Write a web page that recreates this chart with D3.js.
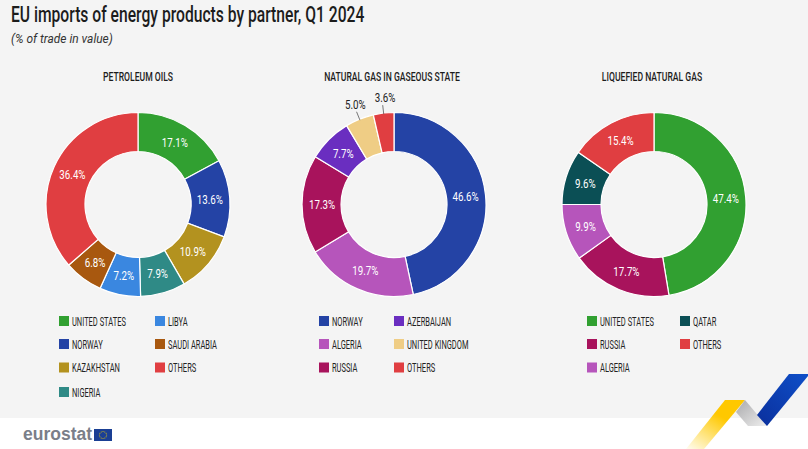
<!DOCTYPE html>
<html><head><meta charset="utf-8">
<script src="https://cdn.jsdelivr.net/npm/d3@7"></script>
<style>
html,body{margin:0;padding:0;background:#fff}
svg{display:block}
text{font-family:"Roboto",sans-serif}
</style></head><body><div id="c"></div>
<script>
const titleText="EU imports of energy products by partner, Q1 2024";
const subtitleText="(% of trade in value)";
const panelTitles=["PETROLEUM OILS","NATURAL GAS IN GASEOUS STATE","LIQUEFIED NATURAL GAS"];
const colors={"UNITED STATES":"#31a031","NORWAY":"#2443a5","KAZAKHSTAN":"#b3921f","NIGERIA":"#2f8a86","LIBYA":"#3a87e0","SAUDI ARABIA":"#a8580f","OTHERS":"#e03e41","ALGERIA":"#b655bb","RUSSIA":"#a8135c","AZERBAIJAN":"#6a2ec0","UNITED KINGDOM":"#efcd85","QATAR":"#0b4f55"};
const oilNames=["UNITED STATES","NORWAY","KAZAKHSTAN","NIGERIA","LIBYA","SAUDI ARABIA","OTHERS"];
const oilValues=[17.1,13.6,10.9,7.9,7.2,6.8,36.4];
const gasNames=["NORWAY","ALGERIA","RUSSIA","AZERBAIJAN","UNITED KINGDOM","OTHERS"];
const gasValues=[46.6,19.7,17.3,7.7,5.0,3.6];
const lngNames=["UNITED STATES","RUSSIA","ALGERIA","QATAR","OTHERS"];
const lngValues=[47.4,17.7,9.9,9.6,15.4];
const panels=[
 {names:oilNames,values:oilValues,cx:138,titleX:138,legX:[59,155],n1:4},
 {names:gasNames,values:gasValues,cx:394,titleX:392,legX:[319,394],n1:3},
 {names:lngNames,values:lngValues,cx:654,titleX:652,legX:[587,680],n1:3}
];
const W=808,H=449,cy=204.5,R=92,r0=53,rL=72;
const svg=d3.select("#c").append("svg").attr("width",W).attr("height",H);
// text squeezed horizontally to stand in for the condensed face of the reference
function label(parent,x,y,str,size,sx,fill,anchor){
 return parent.append("text").attr("transform",`translate(${x},${y}) scale(${sx},1)`)
  .attr("text-anchor",anchor||"start").attr("font-size",size).attr("fill",fill).text(str);
}
svg.append("rect").attr("width",W).attr("height",418).attr("fill","#f4f4f4");
label(svg,11,22,titleText,21.5,0.728,"#1c1c1c").attr("font-weight",500);
label(svg,11,43,subtitleText,13,0.92,"#333").attr("font-style","italic");
const arc=d3.arc().innerRadius(r0).outerRadius(R);
const pie=d3.pie().sort(null).value(d=>d);
const rowY=[321,344,367.5,392];
panels.forEach((p,pi)=>{
 label(svg,p.titleX,81,panelTitles[pi],12.5,0.69,"#1c1c1c","middle").attr("font-weight",500);
 const g=svg.append("g").attr("transform",`translate(${p.cx},${cy})`);
 const arcs=pie(p.values);
 g.selectAll("path").data(arcs).join("path").attr("d",arc)
  .attr("fill",(d,i)=>colors[p.names[i]]).attr("stroke","#fff").attr("stroke-width",1.2);
 arcs.forEach((a,i)=>{
  const m=(a.startAngle+a.endAngle)/2, s=Math.sin(m), c=-Math.cos(m);
  const txt=p.values[i].toFixed(1)+"%";
  if(p.values[i]<=5.0){
   g.append("line").attr("x1",s*(R-1)).attr("y1",c*(R-1)).attr("x2",s*(R+8)).attr("y2",c*(R+8)).attr("stroke","#555").attr("stroke-width",0.8);
   label(g,s*(R+14)+(i===5?3:1),c*(R+14)+2.5,txt,13,0.75,"#222","middle");
  } else {
   label(g,s*rL,c*rL+4.5,txt,13,0.75,"#fff","middle");
  }
 });
 const leg=svg.append("g");
 p.names.forEach((n,i)=>{
  const col=i<p.n1?0:1, row=col?i-p.n1:i;
  leg.append("rect").attr("x",p.legX[col]).attr("y",rowY[row]-5).attr("width",10).attr("height",10).attr("fill",colors[n]);
  label(leg,p.legX[col]+13,rowY[row]+4.5,n,12.5,0.6,"#222");
 });
});
// Eurostat branding
const defs=svg.append("defs");
const gy=defs.append("linearGradient").attr("id","gy").attr("x1",0).attr("y1",1).attr("x2",0.55).attr("y2",0.3);
gy.append("stop").attr("offset",0).attr("stop-color","#ffcc00").attr("stop-opacity",0.05);
gy.append("stop").attr("offset",1).attr("stop-color","#ffc800");
const gg=defs.append("linearGradient").attr("id","gg").attr("x1",0).attr("y1",0).attr("x2",1).attr("y2",1);
gg.append("stop").attr("offset",0).attr("stop-color","#a9a9ab");
gg.append("stop").attr("offset",1).attr("stop-color","#eeeeee");
const gb=defs.append("linearGradient").attr("id","gb").attr("x1",0).attr("y1",1).attr("x2",1).attr("y2",0);
gb.append("stop").attr("offset",0).attr("stop-color","#0a2f9c");
gb.append("stop").attr("offset",1).attr("stop-color","#0f4fc8");
svg.append("polygon").attr("points","686,449 725,400 745,400 704,449").attr("fill","url(#gy)");
svg.append("polygon").attr("points","736,412 745,400 767,426 748,426").attr("fill","url(#gg)");
svg.append("polygon").attr("points","757,415 789,374 808,374 808,376 767,426").attr("fill","url(#gb)");
svg.append("text").attr("x",23).attr("y",440).style("font-family","'Liberation Sans'").attr("font-weight","bold").attr("font-size",18).attr("fill","#7a7e89").attr("textLength",69).attr("lengthAdjust","spacingAndGlyphs").text("eurostat");
svg.append("rect").attr("x",94).attr("y",429).attr("width",18).attr("height",12).attr("fill","#1a3f94");
const stars=d3.range(12).map(i=>i*Math.PI/6);
svg.append("g").selectAll("circle").data(stars).join("circle")
 .attr("cx",a=>103+3.6*Math.cos(a)).attr("cy",a=>435+3.6*Math.sin(a)).attr("r",0.5).attr("fill","#f4d000");
</script></body></html>
